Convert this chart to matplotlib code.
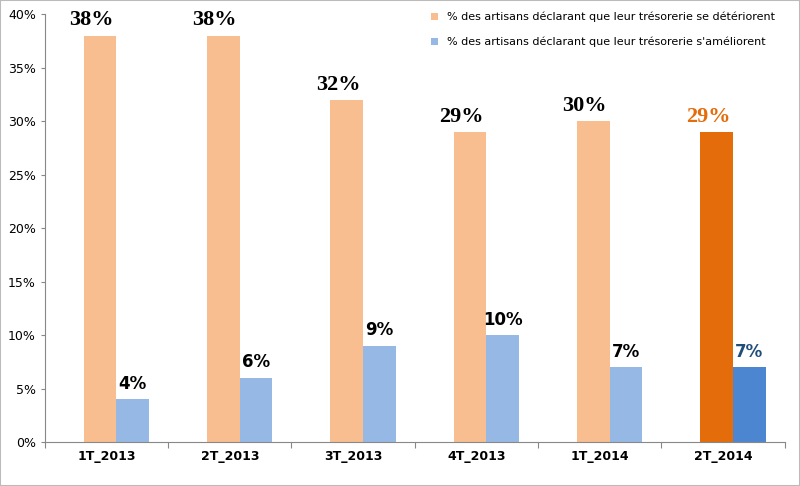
import matplotlib
matplotlib.use("Agg")
import matplotlib.pyplot as plt
from matplotlib.patches import Rectangle

categories = ["1T_2013", "2T_2013", "3T_2013", "4T_2013", "1T_2014", "2T_2014"]
deteriore = [38, 38, 32, 29, 30, 29]
ameliore = [4, 6, 9, 10, 7, 7]
leg1 = "% des artisans déclarant que leur trésorerie se détériorent"
leg2 = "% des artisans déclarant que leur trésorerie s'améliorent"

fig = plt.figure(figsize=(8, 4.86), dpi=100)
ax = fig.add_axes([0.056, 0.0905, 0.925, 0.88])
w = 0.265
shift = 0.08
oc = ["#F9BE8F"] * 5 + ["#E46C0A"]
bc = ["#95B8E4"] * 5 + ["#4C86D0"]
xs = [i + 0.5 for i in range(len(categories))]
ax.bar([x + shift - w / 2 for x in xs], deteriore, w, color=oc, label=leg1)
ax.bar([x + shift + w / 2 for x in xs], ameliore, w, color=bc, label=leg2)
for i, x in enumerate(xs):
    ax.text(x + shift - w / 2 - 0.07, deteriore[i] + 0.5, f"{deteriore[i]}%", ha="center", va="bottom",
            family="Liberation Serif", weight="bold", fontsize=16,
            color="#E46C0A" if i == 5 else "black")
    ax.text(x + shift + w / 2, ameliore[i] + 0.6, f"{ameliore[i]}%", ha="center", va="bottom",
            family="DejaVu Sans", weight="bold", fontsize=12,
            color="#1F4E79" if i == 5 else "black")
ax.set_xlim(0, 6)
ax.set_ylim(0, 40)
ax.set_yticks(range(0, 41, 5))
ax.set_yticklabels([f"{v}%" for v in range(0, 41, 5)], fontsize=9)
ax.set_xticks(range(7))
ax.set_xticklabels([])
ax.set_xticks(xs, minor=True)
ax.set_xticklabels(categories, minor=True, fontsize=9, weight="bold")
ax.tick_params(axis="x", which="minor", length=0, pad=6)
ax.tick_params(axis="x", which="major", length=4, color="#888888")
ax.tick_params(axis="y", length=3, color="#888888")
for s in ["top", "right"]:
    ax.spines[s].set_visible(False)
ax.spines["left"].set_color("#888888")
ax.spines["bottom"].set_color("#888888")
ax.legend(loc="upper right", bbox_to_anchor=(1.0, 1.03), frameon=False, fontsize=8,
          handlelength=0.6, handleheight=0.6, labelspacing=1.3)
fig.patches.append(Rectangle((0, 0), 1, 1, transform=fig.transFigure, fill=False,
                             edgecolor="#BBBBBB", linewidth=1.5))
fig.savefig("out.png", dpi=100)
